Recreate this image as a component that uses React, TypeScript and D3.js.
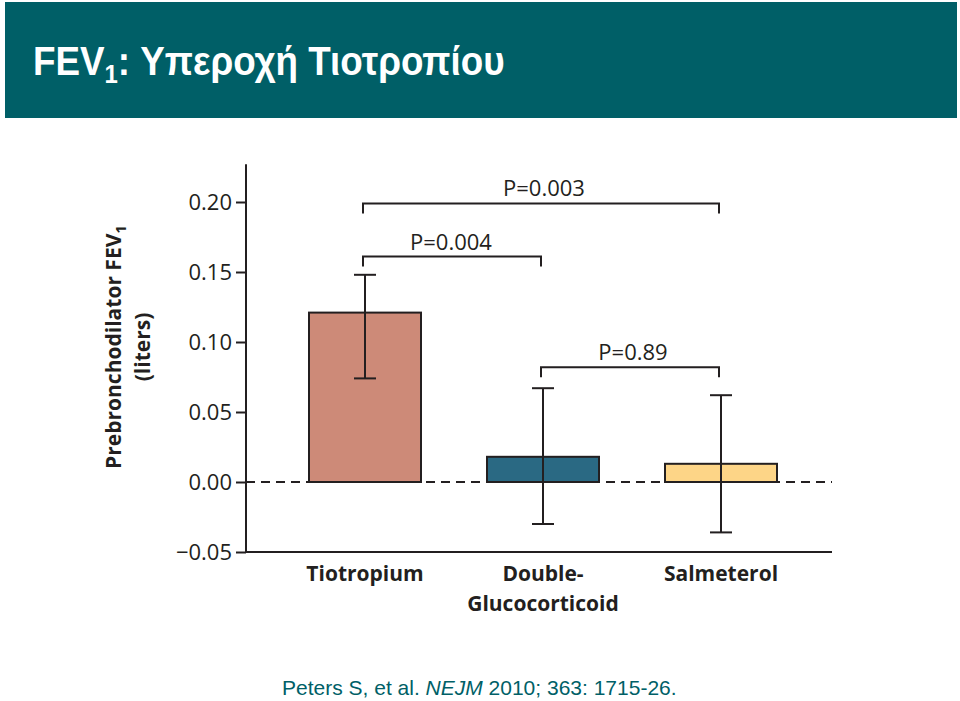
import React, { useEffect, useRef } from 'react';
import * as d3 from 'd3';

// 치료군별 FEV1 변화량 (liters)
const groups = ['Tiotropium', 'Double-Glucocorticoid', 'Salmeterol'];
const groupLines = [['Tiotropium'], ['Double-', 'Glucocorticoid'], ['Salmeterol']];
const means = [0.121, 0.018, 0.013];
const ciLow = [0.074, -0.030, -0.036];
const ciHigh = [0.148, 0.067, 0.062];
const barColors = ['#cd8a78', '#2a6983', '#fdd587'];
const yTicks = [-0.05, 0, 0.05, 0.10, 0.15, 0.20];

// 비교 P값 (from, to, label, bracket height)
const comparisons = [
  { from: 0, to: 2, label: 'P=0.003', level: 0.199 },
  { from: 0, to: 1, label: 'P=0.004', level: 0.161 },
  { from: 1, to: 2, label: 'P=0.89', level: 0.082 },
];

const W = 960;
const H = 701;
const teal = '#005f67';
const ink = '#231f20';
const font = "'Open Sans', 'DejaVu Sans', sans-serif";

const App = () => {
  const ref = useRef<SVGSVGElement>(null);

  useEffect(() => {
    if (!ref.current) return;
    const svg = d3.select(ref.current);
    svg.selectAll('*').remove();

    // 헤더 띠
    svg.append('rect')
      .attr('x', 5).attr('y', 2).attr('width', 952).attr('height', 116)
      .attr('fill', teal);

    const title = svg.append('text')
      .attr('transform', 'translate(33,75) scale(0.92,1)')
      .attr('fill', 'white')
      .attr('font-family', "'Liberation Sans', Arial, sans-serif")
      .attr('font-weight', 'bold')
      .attr('font-size', 40);
    title.append('tspan').text('FEV');
    title.append('tspan').attr('font-size', 26).attr('dy', 8).text('1');
    title.append('tspan').attr('dy', -8).text(': Υπεροχή Τιοτροπίου');

    // 스케일
    const y = d3.scaleLinear().domain([-0.05, 0.20]).range([552, 202]);
    const x = d3.scaleBand().domain(groups).range([309, 777]).paddingInner(66 / 178).paddingOuter(0);
    const cx = (i: number) => (x(groups[i]) as number) + x.bandwidth() / 2;

    const g = svg.append('g');

    // y축
    const yAxis = d3.axisLeft(y)
      .tickValues(yTicks)
      .tickSize(10)
      .tickFormat(d => (+d < 0 ? '\u22120.05' : d3.format('.2f')(+d)));
    const ya = g.append('g').attr('transform', 'translate(246,0)').call(yAxis);
    ya.select('.domain').remove();
    ya.selectAll('line').attr('stroke', ink).attr('stroke-width', 2);
    ya.selectAll('text')
      .attr('fill', ink)
      .attr('font-family', font)
      .attr('font-size', 22)
      .attr('x', -14);
    g.append('line')
      .attr('x1', 246).attr('x2', 246)
      .attr('y1', y(0.227)).attr('y2', y(-0.05) + 1)
      .attr('stroke', ink).attr('stroke-width', 2);

    // x축 + 0 기준선
    g.append('line')
      .attr('x1', 245).attr('x2', 832)
      .attr('y1', y(-0.05)).attr('y2', y(-0.05))
      .attr('stroke', ink).attr('stroke-width', 2);
    g.append('line')
      .attr('x1', 246).attr('x2', 832)
      .attr('y1', y(0)).attr('y2', y(0))
      .attr('stroke', ink).attr('stroke-width', 2)
      .attr('stroke-dasharray', '9,6');

    // 막대
    g.selectAll('.bar')
      .data(means)
      .enter()
      .append('rect')
      .attr('class', 'bar')
      .attr('x', (d, i) => x(groups[i]) as number)
      .attr('y', d => y(d))
      .attr('width', x.bandwidth())
      .attr('height', d => y(0) - y(d))
      .attr('fill', (d, i) => barColors[i])
      .attr('stroke', ink)
      .attr('stroke-width', 2);

    // 오차 막대
    const err = g.selectAll('.err').data(means).enter().append('g').attr('class', 'err');
    err.append('line')
      .attr('x1', (d, i) => cx(i)).attr('x2', (d, i) => cx(i))
      .attr('y1', (d, i) => y(ciHigh[i])).attr('y2', (d, i) => y(ciLow[i]))
      .attr('stroke', ink).attr('stroke-width', 2);
    [ciHigh, ciLow].forEach(arr => {
      err.append('line')
        .attr('x1', (d, i) => cx(i) - 11).attr('x2', (d, i) => cx(i) + 11)
        .attr('y1', (d, i) => y(arr[i])).attr('y2', (d, i) => y(arr[i]))
        .attr('stroke', ink).attr('stroke-width', 2);
    });

    // P값 괄호
    comparisons.forEach(c => {
      const x1 = cx(c.from) - 2;
      const x2 = cx(c.to) - 2;
      const yy = y(c.level);
      const leftAligned = c.from === 0 && c.to === 1;
      g.append('path')
        .attr('d', `M${x1},${yy + 10}V${yy}H${x2}V${yy + 10}`)
        .attr('fill', 'none')
        .attr('stroke', ink)
        .attr('stroke-width', 2);
      g.append('text')
        .attr('x', leftAligned ? x1 + 47 : (x1 + x2) / 2 + 3)
        .attr('y', yy - 7)
        .attr('text-anchor', leftAligned ? 'start' : 'middle')
        .attr('font-family', font)
        .attr('font-size', 22)
        .attr('fill', ink)
        .text(c.label);
    });

    // 범주 라벨
    groupLines.forEach((lines, i) => {
      lines.forEach((s, k) => {
        g.append('text')
          .attr('x', cx(i))
          .attr('y', 581 + k * 30)
          .attr('text-anchor', 'middle')
          .attr('font-family', font)
          .attr('font-weight', 700)
          .attr('font-size', 21)
          .attr('fill', ink)
          .text(s);
      });
    });

    // y축 제목
    const yl = g.append('g').attr('transform', 'translate(0,347) rotate(-90)');
    const t1 = yl.append('text')
      .attr('x', 0).attr('y', 121)
      .attr('text-anchor', 'middle')
      .attr('font-family', font)
      .attr('font-weight', 700)
      .attr('font-size', 21)
      .attr('fill', ink);
    t1.append('tspan').text('Prebronchodilator FEV');
    t1.append('tspan').attr('font-size', 15).attr('dy', 5).text('1');
    yl.append('text')
      .attr('x', 0).attr('y', 150)
      .attr('text-anchor', 'middle')
      .attr('font-family', font)
      .attr('font-weight', 700)
      .attr('font-size', 21)
      .attr('fill', ink)
      .text('(liters)');

    // 출처
    const cite = svg.append('text')
      .attr('x', 282).attr('y', 695)
      .attr('fill', teal)
      .attr('font-family', "'Liberation Sans', Arial, sans-serif")
      .attr('font-size', 21);
    cite.append('tspan').text('Peters S, et al. ');
    cite.append('tspan').attr('font-style', 'italic').text('NEJM');
    cite.append('tspan').text(' 2010; 363: 1715-26.');
  }, []);

  return (
    <div style={{ position: 'absolute', left: 0, top: 0 }}>
      <svg ref={ref} width={W} height={H} style={{ display: 'block', background: 'white' }}></svg>
    </div>
  );
};

export default App;
